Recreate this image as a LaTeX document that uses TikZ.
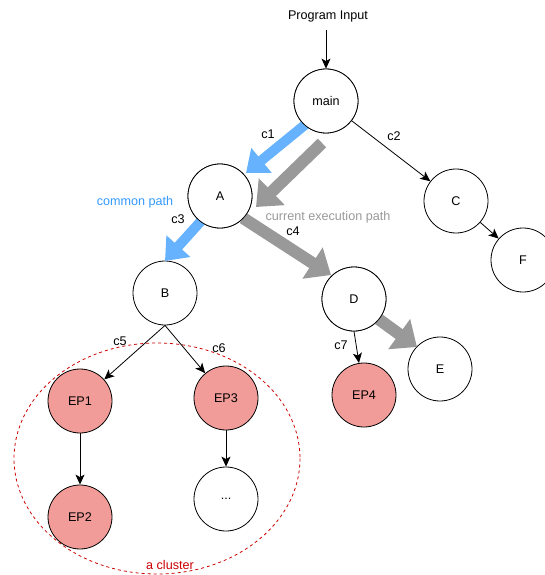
\documentclass[tikz,border=0pt]{standalone}
\usepackage{fontspec}
\setmainfont{Liberation Sans}
\usetikzlibrary{arrows.meta}
\definecolor{epred}{HTML}{F19C99}
\definecolor{cblue}{HTML}{66B2FF}
\definecolor{cbluetext}{HTML}{3399FF}
\definecolor{cgray}{HTML}{999999}
\definecolor{cred}{HTML}{CC0000}
\begin{document}
\begin{tikzpicture}[x=1pt,y=-1pt,
  every node/.style={font=\fontsize{12.6}{14}\selectfont},
  state/.style={circle,draw,line width=0.8pt,minimum size=64pt,inner sep=0pt,fill=white},
  ep/.style={state,fill=epred},
  thinarrow/.style={line width=0.8pt,-{Stealth[length=10pt,width=9pt,inset=2.5pt]}},
  lbl/.style={inner sep=1pt},
  bluearrow/.style={draw=cblue,line width=10pt,-{Triangle[length=20pt,width=31pt]}},
  grayarrow/.style={draw=cgray,line width=12pt,-{Triangle[length=22pt,width=36pt]}},
  cluster/.style={draw=cred,line width=0.8pt,dash pattern=on 3pt off 3pt}
]
\useasboundingbox (0,0) rectangle (545,575);

% cluster ellipse
\draw[cluster] (157,458.5) ellipse [x radius=143, y radius=115.5];

% nodes
\node[state] (main) at (326,101) {main};
\node[state] (A) at (220,196) {A};
\node[state] (B) at (165,293) {B};
\node[state] (C) at (456,201) {C};
\node[state] (F) at (523,260) {F};
\node[state] (D) at (354,299) {D};
\node[state] (E) at (440,369) {E};
\node[ep] (EP1) at (80,401) {EP1};
\node[ep] (EP2) at (80,517) {EP2};
\node[ep] (EP3) at (226,398) {EP3};
\node[ep] (EP4) at (364,395) {EP4};
\node[state] (dots) at (226,499) {...};

\node (input) at (328,16) {Program Input};
\coordinate (inputend) at (326,30);

% thin arrows
\draw[thinarrow] (inputend) -- (main);
\draw[thinarrow] (main) -- (C);
\draw[thinarrow] (C) -- (F);
\draw[thinarrow] (B.south) -- (EP1);
\draw[thinarrow] (B.south) -- (EP3);
\draw[thinarrow] (EP1) -- (EP2);
\draw[thinarrow] (EP3) -- (dots);
\draw[thinarrow] (D.south) -- (EP4);

% thick arrows
\coordinate (b1s) at (306,124);
\coordinate (b1e) at (246,173);
\coordinate (b2s) at (202,220);
\coordinate (b2e) at (165,261);
\draw[bluearrow] (b1s) -- (b1e);
\draw[bluearrow] (b2s) -- (b2e);

\coordinate (g1s) at (322,143);
\coordinate (g1e) at (256,207);
\coordinate (g2s) at (243,218);
\coordinate (g2e) at (331,275);
\coordinate (g3s) at (377,318);
\coordinate (g3e) at (417,347);
\draw[grayarrow] (g1s) -- (g1e);
\draw[grayarrow] (g2s) -- (g2e);
\draw[grayarrow] (g3s) -- (g3e);

% redraw circles over thick arrow starts
\node[state] at (main) {main};
\node[state] at (A) {A};
\node[state] at (D) {D};

% labels
\node[lbl] (c1) at (268,134) {c1};
\node[lbl] (c2) at (394,136) {c2};
\node[lbl] (c3) at (178,219) {c3};
\node[lbl] (c4) at (293,231) {c4};
\node[lbl] (c5) at (120,341) {c5};
\node[lbl] (c6) at (219,348) {c6};
\node[lbl] (c7) at (341,345) {c7};
\node[lbl,text=cbluetext] (common) at (135,202) {common path};
\node[lbl,text=cgray] (current) at (328,217) {current execution path};
\node[lbl,text=cred] (clusterlbl) at (170,565) {a cluster};
\end{tikzpicture}
\end{document}
